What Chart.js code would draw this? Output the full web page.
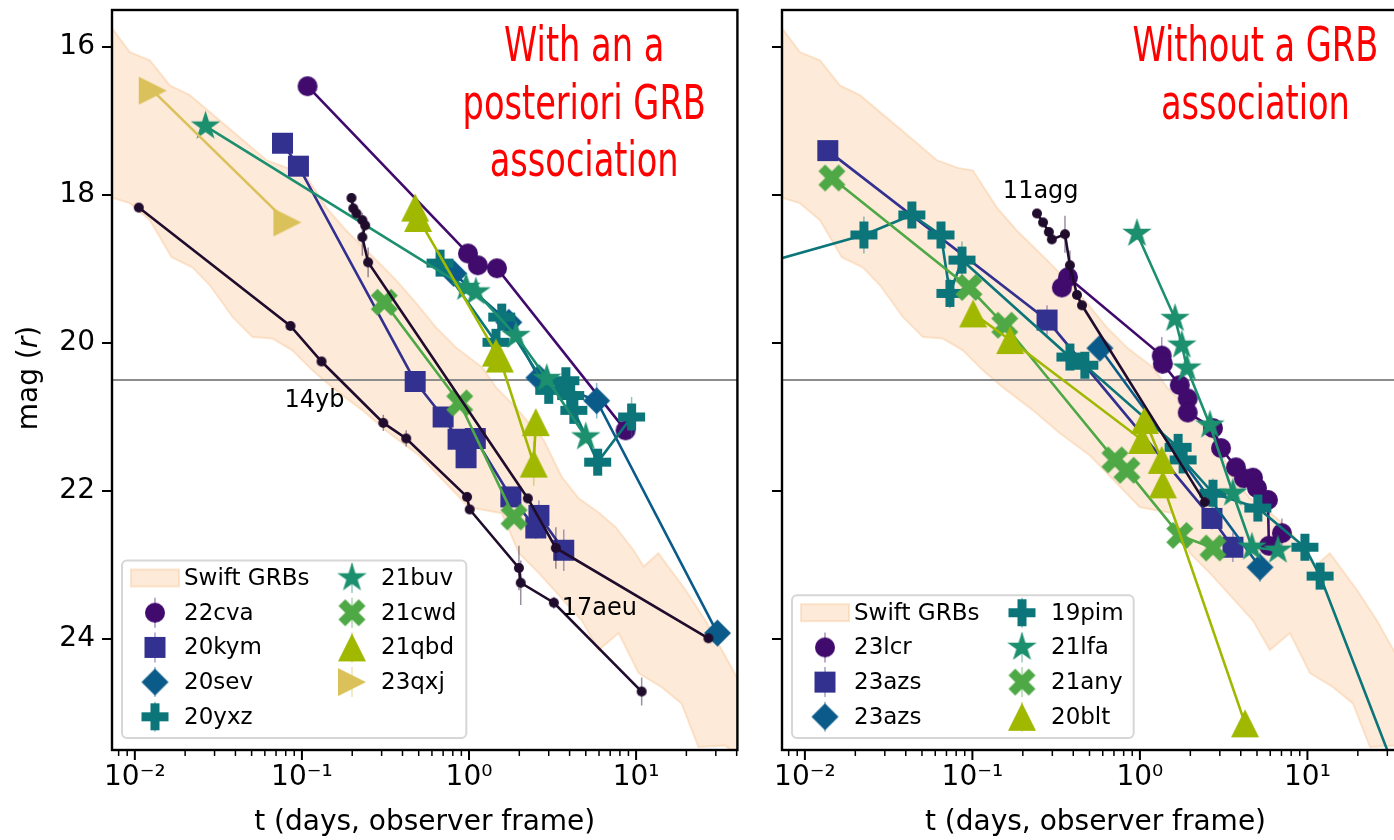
<!DOCTYPE html>
<html>
<head>
<meta charset="utf-8">
<script src="https://cdn.jsdelivr.net/npm/chart.js@4.4.1/dist/chart.umd.min.js"></script>
<style>
html, body { margin: 0; padding: 0; background: #fff; }
body { width: 1394px; height: 840px; overflow: hidden; position: relative; }
canvas { position: absolute; top: 0; }
#withGrb { left: 0; }
#noGrb { left: 745px; }
</style>
</head>
<body>
<canvas id="withGrb" width="745" height="840"></canvas>
<canvas id="noGrb" width="680" height="840"></canvas>
<script>
// axis limits and ticks shared by both panels
const tLimits = [0.0073, 40.4];
const magLimits = [15.5, 25.5];
const magTicks = [16, 18, 20, 22, 24];
const tTicks = [0.01, 0.1, 1, 10];
const magCut = 20.5;

// Swift GRB r-band envelope (bright edge / faint edge)
const swiftT_bright = [0.0069, 0.00933, 0.0123, 0.0162, 0.0213, 0.0281, 0.0424, 0.0614, 0.0808, 0.1007, 0.140, 0.184, 0.279, 0.366, 0.483, 0.635, 0.836, 1.20, 1.45, 1.91, 2.28, 2.80, 3.59, 4.54, 5.97, 7.55, 9.66, 11.1, 13.6, 19.8, 26.0, 37.2, 43.8];
const swiftMag_bright = [15.67, 16.07, 16.18, 16.52, 16.65, 16.88, 17.22, 17.53, 17.63, 17.67, 18.17, 18.48, 18.88, 19.15, 19.46, 19.79, 20.06, 20.33, 20.60, 20.87, 21.08, 21.31, 21.81, 22.10, 22.29, 22.49, 22.80, 23.02, 22.84, 23.34, 23.75, 24.38, 24.69];
const swiftT_faint = [0.0069, 0.00933, 0.0123, 0.0166, 0.0222, 0.0281, 0.0385, 0.0506, 0.0667, 0.0877, 0.1156, 0.152, 0.230, 0.333, 0.503, 1.0, 1.57, 1.99, 2.62, 4.73, 5.97, 7.86, 10.35, 14.2, 18.7, 23.6, 34.2, 43.8];
const swiftMag_faint = [18.02, 18.11, 18.34, 18.84, 18.98, 19.22, 19.65, 19.92, 19.94, 20.10, 20.37, 20.60, 20.91, 21.22, 21.52, 22.22, 22.30, 22.84, 23.11, 23.75, 24.15, 23.92, 24.46, 24.65, 24.87, 25.46, 25.44, 25.64];

// --- with an a posteriori GRB association ---
const t22cva = [0.108, 0.986, 1.13, 1.47, 8.65];
const m22cva = [16.53, 18.79, 18.95, 18.99, 21.18];

const t20kym = [0.0765, 0.0953, 0.476, 0.70, 0.86, 0.96, 1.09, 1.78, 2.51, 2.62, 3.69];
const m20kym = [17.30, 17.61, 20.52, 21.00, 21.30, 21.55, 21.29, 22.08, 22.50, 22.33, 22.80];
const e20kym = [0, 0, 0, 0, 0, 0.12, 0, 0, 0.15, 0.2, 0.28];

const t20sev = [0.81, 1.73, 2.62, 5.81, 30.7];
const m20sev = [19.06, 19.72, 20.47, 20.78, 23.92];
const e20sev = [0, 0, 0, 0.24, 0];

const t20yxz = [0.671, 1.45, 1.57, 3.00, 3.80, 4.06, 4.24, 5.89, 9.40];
const m20yxz = [18.92, 19.99, 19.65, 20.64, 20.51, 20.71, 20.91, 21.61, 21.00];
const e20yxz = [0, 0, 0, 0, 0, 0, 0, 0.15, 0.27];

const t21buv = [0.0265, 0.96, 1.10, 1.91, 2.92, 5.00];
const m21buv = [17.07, 19.25, 19.31, 19.90, 20.48, 21.27];

const t21cwd = [0.311, 0.88, 1.86];
const m21cwd = [19.45, 20.81, 22.35];

const t21qbd = [0.476, 0.496, 1.45, 1.53, 2.44, 2.51];
const m21qbd = [18.17, 18.31, 20.13, 20.21, 21.63, 21.07];
const e21qbd = [0, 0, 0, 0, 0.3, 0.12];

const t23qxj = [0.0128, 0.0819];
const m23qxj = [16.59, 18.37];

// reference afterglows (small black dots)
const t14yb = [0.01056, 0.0854, 0.131, 0.307, 0.421, 0.973, 1.01, 1.99, 2.04, 3.22, 10.8];
const m14yb = [18.17, 19.77, 20.25, 21.08, 21.29, 22.08, 22.25, 23.04, 23.24, 23.51, 24.71];
const e14yb = [0, 0, 0, 0.11, 0.11, 0.05, 0.05, 0.3, 0.3, 0.08, 0.19];

const t17aeu = [0.198, 0.203, 0.212, 0.230, 0.239, 0.230, 0.249, 2.25, 3.31, 27.1];
const m17aeu = [18.04, 18.18, 18.25, 18.34, 18.41, 18.57, 18.91, 22.10, 22.77, 23.99];
const e17aeu = [0, 0, 0, 0.1, 0, 0.25, 0.2, 0.06, 0.28, 0];

// --- without a GRB association ---
const t23lcr = [0.342, 0.372, 1.35, 1.37, 1.73, 1.93, 1.93, 2.73, 3.05, 3.74, 4.18, 4.73, 5.00, 5.81, 5.89, 7.04];
const m23lcr = [19.25, 19.11, 20.17, 20.28, 20.57, 20.75, 20.94, 21.15, 21.42, 21.68, 21.83, 21.82, 21.96, 22.12, 22.74, 22.57];
const e23lcr = [0, 0, 0.25, 0, 0, 0, 0, 0, 0, 0, 0, 0.1, 0, 0, 0, 0.2];

const t23azsS = [0.0137, 0.279, 2.69, 3.59];
const m23azsS = [17.40, 19.69, 22.37, 22.76];
const e23azsS = [0, 0.2, 0.15, 0.2];

const t23azsD = [0.577, 5.21];
const m23azsD = [20.07, 23.03];
const e23azsD = [0, 0.2];

const t19pim = [0.00298, 0.0225, 0.0435, 0.0649, 0.0734, 0.0866, 0.382, 0.469, 1.69, 1.81, 2.73, 5.06, 9.66, 11.9, 33.3];
const m19pim = [19.10, 18.54, 18.27, 18.54, 19.33, 18.88, 20.19, 20.30, 21.41, 21.58, 22.03, 22.23, 22.76, 23.15, 25.77];
const e19pim = [0, 0.25, 0.15, 0.15, 0.2, 0.25, 0, 0, 0.15, 0, 0.2, 0.15, 0, 0, 0];

const t21lfa = [0.96, 1.62, 1.78, 1.91, 2.62, 3.59, 4.66, 6.67];
const m21lfa = [18.52, 19.67, 20.03, 20.34, 21.11, 22.03, 22.76, 22.80];

const t21any = [0.0145, 0.0953, 0.156, 0.709, 0.836, 1.73, 2.73];
const m21any = [17.77, 19.25, 19.76, 21.58, 21.72, 22.60, 22.77];

const t20blt = [0.101, 0.168, 1.03, 1.07, 1.35, 1.37, 4.24];
const m20blt = [19.60, 19.96, 21.31, 21.04, 21.58, 21.91, 25.14];

const t11agg = [0.243, 0.264, 0.286, 0.298, 0.357, 0.382, 0.421, 0.451, 2.44];
const m11agg = [18.25, 18.37, 18.50, 18.60, 18.53, 18.95, 19.35, 19.49, 22.15];
const e11agg = [0, 0, 0, 0, 0.25, 0.2, 0, 0, 0];

// names written next to the reference curves
const namesWith = ['14yb', '17aeu'];
const namesWithT = [0.0786, 3.59];
const namesWithMag = [20.87, 23.68];
const namesWithout = ['11agg'];
const namesWithoutT = [0.152];
const namesWithoutMag = [18.04];

const noteWith = ['With an a', 'posteriori GRB', 'association'];
const noteWithout = ['Without a GRB', 'association'];

const col = {
  purple: '#400b6c', indigo: '#33318f', blue: '#0b5b8a', teal: '#0b757a',
  green: '#1c906e', lime: '#4ea845', olive: '#a0b800', sand: '#dbc15a', ink: '#200c2c'
};

Chart.defaults.font.family = '"DejaVu Sans", sans-serif';

function rgba(hex, a) {
  const n = parseInt(hex.slice(1), 16);
  return `rgba(${n >> 16},${(n >> 8) & 255},${n & 255},${a})`;
}

// filled matplotlib-like marker drawn once into a small canvas
function sprite(shape, size, color) {
  const n = Math.ceil(size) + 4;
  const c = document.createElement('canvas');
  c.width = n; c.height = n;
  const g = c.getContext('2d');
  const r = size / 2;
  g.translate(n / 2, n / 2);
  g.fillStyle = color;
  g.beginPath();
  const poly = (pts, k) => pts.forEach(([px, py], i) => i ? g.lineTo(px * k, py * k) : g.moveTo(px * k, py * k));
  if (shape === 'o') g.arc(0, 0, r, 0, 2 * Math.PI);
  else if (shape === 's') g.rect(-r, -r, size, size);
  else if (shape === 'D') poly([[0, -1], [1, 0], [0, 1], [-1, 0]], r);
  else if (shape === 'P') poly([[-1, -3], [1, -3], [1, -1], [3, -1], [3, 1], [1, 1], [1, 3], [-1, 3], [-1, 1], [-3, 1], [-3, -1], [-1, -1]], r / 3);
  else if (shape === 'X') poly([[-1, -2], [0, -1], [1, -2], [2, -1], [1, 0], [2, 1], [1, 2], [0, 1], [-1, 2], [-2, 1], [-1, 0], [-2, -1]], r / 2);
  else if (shape === '^') poly([[0, -1], [1, 1], [-1, 1]], r);
  else if (shape === '>') poly([[1, 0], [-1, -1], [-1, 1]], r);
  else if (shape === '*') {
    for (let i = 0; i < 10; i++) {
      const a = -Math.PI / 2 + i * Math.PI / 5;
      const rr = i % 2 ? r * 0.381966 : r;
      i ? g.lineTo(rr * Math.cos(a), rr * Math.sin(a)) : g.moveTo(rr * Math.cos(a), rr * Math.sin(a));
    }
  }
  g.closePath();
  g.fill();
  return c;
}

const markerSize = { o: 20, s: 21, D: 27, P: 27, X: 27, '*': 31, '^': 28, '>': 28, '.': 10 };

function series(label, ts, ms, shape, color, errs, legend = true) {
  const img = sprite(shape === '.' ? 'o' : shape, markerSize[shape], color);
  return {
    label,
    data: ts.map((t, i) => ({ x: t, y: ms[i] })),
    showLine: true,
    borderColor: color,
    backgroundColor: color,
    borderWidth: 2.6,
    pointStyle: img,
    pointRadius: 5,
    pointHoverRadius: 5,
    sprite: img,
    errs: errs || null,
    errColor: rgba(color, 0.45),
    inLegend: legend,
    clip: 0
  };
}

function swiftBand() {
  const pts = swiftT_bright.map((t, i) => ({ x: t, y: swiftMag_bright[i] }));
  for (let i = swiftT_faint.length - 1; i >= 0; i--) pts.push({ x: swiftT_faint[i], y: swiftMag_faint[i] });
  return {
    label: 'Swift GRBs',
    data: pts,
    showLine: true,
    fill: 'shape',
    backgroundColor: 'rgba(247,186,130,0.3)',
    borderColor: 'rgba(247,186,130,0.35)',
    borderWidth: 2,
    pointRadius: 0,
    isBand: true,
    inLegend: true,
    clip: 0,
    order: 100
  };
}

const supMap = { '-': '\u207B', '0': '\u2070', '1': '\u00B9', '2': '\u00B2', '3': '\u00B3' };
function decade(v) {
  const e = Math.round(Math.log10(v));
  return '10' + String(e).split('').map(ch => supMap[ch]).join('');
}

function drawLegend(chart) {
  const { ctx, chartArea: a } = chart;
  const entries = chart.data.datasets.filter(d => d.inLegend);
  const rows = Math.ceil(entries.length / 2);
  const rowH = 34.7;
  ctx.save();
  ctx.font = '23px "DejaVu Sans"';
  const widest = Math.max(...entries.slice(rows).map(e => ctx.measureText(e.label).width));
  const w = 259 + widest + 10;
  const h = rows * rowH + 4;
  const x0 = a.left + 10;
  const y0 = a.bottom - 12 - h;
  ctx.beginPath();
  ctx.roundRect(x0, y0, w, h, 5);
  ctx.fillStyle = 'rgba(255,255,255,0.8)';
  ctx.fill();
  ctx.strokeStyle = '#d6d6d6';
  ctx.lineWidth = 2;
  ctx.stroke();
  entries.forEach((e, i) => {
    const c = i < rows ? 0 : 1;
    const r = c ? i - rows : i;
    const cy = y0 + 17.5 + r * rowH;
    const hx = x0 + (c ? 230 : 33);
    const tx = x0 + (c ? 259 : 62);
    if (e.isBand) {
      ctx.fillStyle = e.backgroundColor;
      ctx.fillRect(hx - 24, cy - 8.5, 48, 17);
      ctx.strokeStyle = e.borderColor;
      ctx.lineWidth = 2;
      ctx.strokeRect(hx - 24, cy - 8.5, 48, 17);
    } else {
      ctx.strokeStyle = e.errColor;
      ctx.lineWidth = 1.5;
      ctx.beginPath();
      ctx.moveTo(hx, cy - 15);
      ctx.lineTo(hx, cy + 15);
      ctx.stroke();
      ctx.drawImage(e.sprite, hx - e.sprite.width / 2, cy - e.sprite.height / 2);
    }
    ctx.fillStyle = '#000';
    ctx.textAlign = 'left';
    ctx.textBaseline = 'middle';
    ctx.fillText(e.label, tx, cy + 1);
  });
  ctx.restore();
}

function panelDecor(cfg) {
  return {
    id: 'panelDecor',
    beforeDatasetDraw(chart, args) {
      const ds = chart.data.datasets[args.index];
      if (!ds.errs) return;
      const { ctx, chartArea: a, scales: { x, y } } = chart;
      ctx.save();
      ctx.beginPath();
      ctx.rect(a.left, a.top, a.right - a.left, a.bottom - a.top);
      ctx.clip();
      ctx.strokeStyle = ds.errColor;
      ctx.lineWidth = 1.5;
      ds.data.forEach((p, i) => {
        const e = ds.errs[i];
        if (!e) return;
        const px = x.getPixelForValue(p.x);
        ctx.beginPath();
        ctx.moveTo(px, y.getPixelForValue(p.y - e));
        ctx.lineTo(px, y.getPixelForValue(p.y + e));
        ctx.stroke();
      });
      ctx.restore();
    },
    afterDatasetDraw(chart, args) {
      if (!chart.data.datasets[args.index].isBand) return;
      const { ctx, chartArea: a, scales: { y } } = chart;
      const py = y.getPixelForValue(magCut);
      ctx.save();
      ctx.strokeStyle = '#8c8c8c';
      ctx.lineWidth = 1.8;
      ctx.beginPath();
      ctx.moveTo(a.left, py);
      ctx.lineTo(a.right, py);
      ctx.stroke();
      ctx.restore();
    },
    afterDatasetsDraw(chart) {
      const { ctx, chartArea: a, scales: { x, y } } = chart;
      ctx.save();
      // source names
      ctx.font = '24px "DejaVu Sans"';
      ctx.fillStyle = '#000';
      ctx.textAlign = 'left';
      ctx.textBaseline = 'alphabetic';
      cfg.names.forEach((s, i) => ctx.fillText(s, x.getPixelForValue(cfg.nameT[i]), y.getPixelForValue(cfg.nameMag[i])));
      // red panel caption, condensed
      ctx.font = '48px "DejaVu Sans"';
      ctx.fillStyle = '#ff0000';
      ctx.textAlign = 'center';
      const cx = a.left + 0.755 * (a.right - a.left);
      cfg.notes.forEach((s, i) => {
        ctx.save();
        ctx.translate(cx, a.top + 51 + i * 57.5);
        ctx.scale(0.7, 1);
        ctx.fillText(s, 0, 0);
        ctx.restore();
      });
      // frame
      ctx.strokeStyle = '#000';
      ctx.lineWidth = 2.4;
      ctx.strokeRect(a.left, a.top, a.right - a.left, a.bottom - a.top);
      // y ticks
      ctx.lineWidth = 2;
      magTicks.forEach(v => {
        const py = y.getPixelForValue(v);
        ctx.beginPath();
        ctx.moveTo(a.left - 10, py);
        ctx.lineTo(a.left, py);
        ctx.stroke();
      });
      // x ticks, major and minor
      for (let d = -3; d <= 2; d++) {
        for (let k = 1; k <= 9; k++) {
          const v = k * Math.pow(10, d);
          if (v < tLimits[0] || v > tLimits[1]) continue;
          const px = x.getPixelForValue(v);
          ctx.lineWidth = k === 1 ? 2 : 1.5;
          ctx.beginPath();
          ctx.moveTo(px, a.bottom);
          ctx.lineTo(px, a.bottom + (k === 1 ? 10 : 6));
          ctx.stroke();
        }
      }
      ctx.restore();
    },
    afterDraw(chart) {
      const { ctx, chartArea: a } = chart;
      drawLegend(chart);
      ctx.save();
      ctx.fillStyle = '#000';
      ctx.font = '28px "DejaVu Sans"';
      ctx.textAlign = 'center';
      ctx.textBaseline = 'alphabetic';
      ctx.fillText('t (days, observer frame)', (a.left + a.right) / 2, 830);
      if (cfg.yTitle) {
        const parts = [['mag (', ''], ['r', 'italic '], [')', '']];
        const widths = parts.map(([s, st]) => { ctx.font = st + '28px "DejaVu Sans"'; return ctx.measureText(s).width; });
        const total = widths.reduce((p, q) => p + q, 0);
        ctx.translate(37, (a.top + a.bottom) / 2 - 2);
        ctx.rotate(-Math.PI / 2);
        ctx.textAlign = 'left';
        let px = -total / 2;
        parts.forEach(([s, st], i) => {
          ctx.font = st + '28px "DejaVu Sans"';
          ctx.fillText(s, px, 0);
          px += widths[i];
        });
      }
      ctx.restore();
    }
  };
}

function makeChart(id, datasets, cfg) {
  datasets.forEach((d, i) => { if (d.order === undefined) d.order = 50 - i; });
  return new Chart(document.getElementById(id), {
    type: 'scatter',
    data: { datasets },
    options: {
      responsive: false,
      animation: false,
      devicePixelRatio: 1,
      events: [],
      layout: { padding: { top: 10, right: cfg.padRight, left: 0, bottom: 0 } },
      plugins: { legend: { display: false }, tooltip: { enabled: false } },
      scales: {
        x: {
          type: 'logarithmic',
          position: 'bottom',
          min: tLimits[0],
          max: tLimits[1],
          grid: { display: false, drawTicks: false },
          border: { display: false },
          afterBuildTicks: s => { s.ticks = tTicks.map(v => ({ value: v, major: true })); },
          afterFit: s => { s.height = 90; s.paddingLeft = 0; s.paddingRight = 0; },
          ticks: {
            autoSkip: false, maxRotation: 0, padding: 11, color: '#000',
            font: { size: 28 },
            callback: v => decade(v)
          }
        },
        y: {
          type: 'linear',
          reverse: true,
          min: magLimits[0],
          max: magLimits[1],
          grid: { display: false, drawTicks: false },
          border: { display: false },
          afterBuildTicks: s => { s.ticks = magTicks.map(v => ({ value: v })); },
          afterFit: s => { s.width = cfg.yWidth; s.paddingTop = 0; s.paddingBottom = 0; },
          ticks: { display: cfg.yLabels, padding: 17, color: '#000', font: { size: 28 } }
        }
      }
    },
    plugins: [panelDecor(cfg)]
  });
}

makeChart('withGrb', [
  swiftBand(),
  series('22cva', t22cva, m22cva, 'o', col.purple),
  series('20kym', t20kym, m20kym, 's', col.indigo, e20kym),
  series('20sev', t20sev, m20sev, 'D', col.blue, e20sev),
  series('20yxz', t20yxz, m20yxz, 'P', col.teal, e20yxz),
  series('21buv', t21buv, m21buv, '*', col.green),
  series('21cwd', t21cwd, m21cwd, 'X', col.lime),
  series('21qbd', t21qbd, m21qbd, '^', col.olive, e21qbd),
  series('23qxj', t23qxj, m23qxj, '>', col.sand),
  series('14yb', t14yb, m14yb, '.', col.ink, e14yb, false),
  series('17aeu', t17aeu, m17aeu, '.', col.ink, e17aeu, false)
], {
  yWidth: 112, padRight: 6, yLabels: true, yTitle: true,
  names: namesWith, nameT: namesWithT, nameMag: namesWithMag, notes: noteWith
});

makeChart('noGrb', [
  swiftBand(),
  series('23lcr', t23lcr, m23lcr, 'o', col.purple, e23lcr),
  series('23azs', t23azsS, m23azsS, 's', col.indigo, e23azsS),
  series('23azs', t23azsD, m23azsD, 'D', col.blue, e23azsD),
  series('19pim', t19pim, m19pim, 'P', col.teal, e19pim),
  series('21lfa', t21lfa, m21lfa, '*', col.green),
  series('21any', t21any, m21any, 'X', col.lime),
  series('20blt', t20blt, m20blt, '^', col.olive),
  series('11agg', t11agg, m11agg, '.', col.ink, e11agg, false)
], {
  yWidth: 37, padRight: 16, yLabels: false, yTitle: false,
  names: namesWithout, nameT: namesWithoutT, nameMag: namesWithoutMag, notes: noteWithout
});
</script>
</body>
</html>
